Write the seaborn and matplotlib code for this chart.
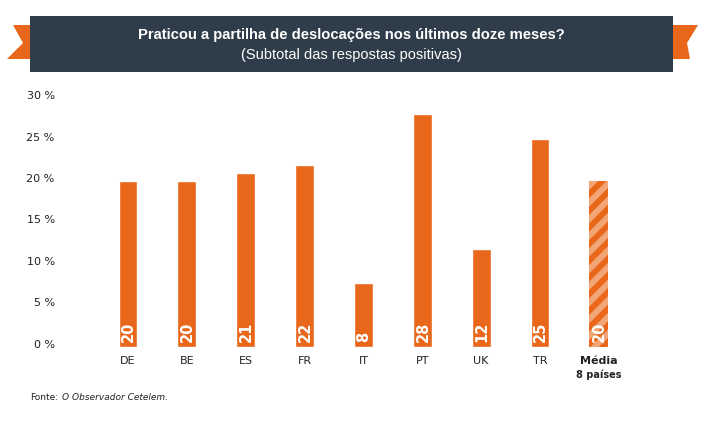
import numpy as np
import pandas as pd
import matplotlib
matplotlib.use('Agg')
import matplotlib.pyplot as plt
import matplotlib.transforms as mtransforms
from matplotlib.patches import Polygon, Rectangle
import seaborn as sns

# data
countries = ['DE', 'BE', 'ES', 'FR', 'IT', 'PT', 'UK', 'TR', 'Média']
values = [20.0, 20.0, 21.0, 21.9, 7.7, 28.1, 11.8, 25.1, 20.0]
value_labels = ['20', '20', '21', '22', '8', '28', '12', '25', '20']
y_ticks = [0, 5, 10, 15, 20, 25, 30]
y_tick_labels = ['0 %', '5 %', '10 %', '15 %', '20 %', '25 %', '30 %']

title = 'Praticou a partilha de deslocações nos últimos doze meses?'
subtitle = '(Subtotal das respostas positivas)'

ORANGE = '#e8671b'
LIGHT = '#f2a676'
DARK = '#2f3d4a'
W, H = 705, 424

sns.set_style('white')
plt.rcParams['font.family'] = ['DejaVu Sans']
plt.rcParams['hatch.linewidth'] = 4.2

fig = plt.figure(figsize=(W / 100, H / 100), dpi=100)


def px(x, y):
    return (x / W, 1 - y / H)


# title ribbon
left_tail = [px(13, 25), px(30, 25), px(30, 59), px(7, 59), px(23, 43)]
right_tail = [px(673, 25), px(698, 25), px(687, 43), px(690, 59), px(673, 59)]
for pts in (left_tail, right_tail):
    fig.patches.append(Polygon(pts, closed=True, transform=fig.transFigure,
                               facecolor=ORANGE, edgecolor='none'))
x0, y0 = px(30, 72)
fig.patches.append(Rectangle((x0, y0), (673 - 30) / W, (72 - 16) / H,
                             transform=fig.transFigure, facecolor=DARK, edgecolor='none'))
fig.text(351.5 / W, 1 - 35 / H, title, color='white', fontsize=10.6, fontweight='bold',
         ha='center', va='center', family=['Liberation Sans', 'DejaVu Sans'])
fig.text(351.5 / W, 1 - 55 / H, subtitle, color='white', fontsize=10.5,
         ha='center', va='center', family=['Liberation Sans', 'DejaVu Sans'])

# axes: category 0 at x=128 px, spacing 58.9 px; y 0 at 346.7 px, 30 at 98.3 px
ax = fig.add_axes([70 / W, (H - 346.7) / H, (660 - 70) / W, 248.4 / H])
df = pd.DataFrame({'pais': countries, 'valor': values})
sns.barplot(data=df, x='pais', y='valor', color=ORANGE, saturation=1, width=0.32, ax=ax)

media = ax.patches[-1]
media.set_facecolor(LIGHT)
media.set_edgecolor(ORANGE)
media.set_linewidth(0)
media.set_hatch('//')

ax.set_xlim(-0.985, 9.04)
ax.set_ylim(0, 30)
ax.set_xlabel('')
ax.set_ylabel('')
sns.despine(ax=ax, left=True, bottom=True)

ax.set_yticks(y_ticks)
ax.set_yticklabels(y_tick_labels, fontsize=8, color='#222222')
ax.tick_params(axis='y', length=0, pad=11)
shift = mtransforms.ScaledTranslation(0, 0.03, fig.dpi_scale_trans)
for lab in ax.get_yticklabels():
    lab.set_transform(lab.get_transform() + shift)

ax.set_xticks(range(len(countries)))
ax.set_xticklabels(countries, fontsize=8, color='#222222')
ax.tick_params(axis='x', length=0, pad=7)
ax.get_xticklabels()[-1].set_fontweight('bold')
ax.annotate('8 países', xy=(len(countries) - 1, 0), xycoords=('data', 'axes fraction'),
            xytext=(0, -20), textcoords='offset points', ha='center', va='center',
            fontsize=7, fontweight='bold', color='#222222')

for i, lab in enumerate(value_labels):
    ax.annotate(lab, xy=(i, 0), xytext=(0.5, 3.5), textcoords='offset points',
                rotation=90, ha='center', va='bottom', color='white',
                fontsize=10.5, fontweight='bold')

fonte = fig.text(30 / W, 1 - 398 / H, 'Fonte:', fontsize=6.5, color='#222222', va='center')
fig.canvas.draw()
ax.annotate('O Observador Cetelem.', xy=(1, 0.5), xycoords=fonte,
            xytext=(3, 0), textcoords='offset points', fontsize=6.5, color='#222222',
            va='center', ha='left', style='italic', annotation_clip=False)

fig.savefig('out.png', dpi=100)
